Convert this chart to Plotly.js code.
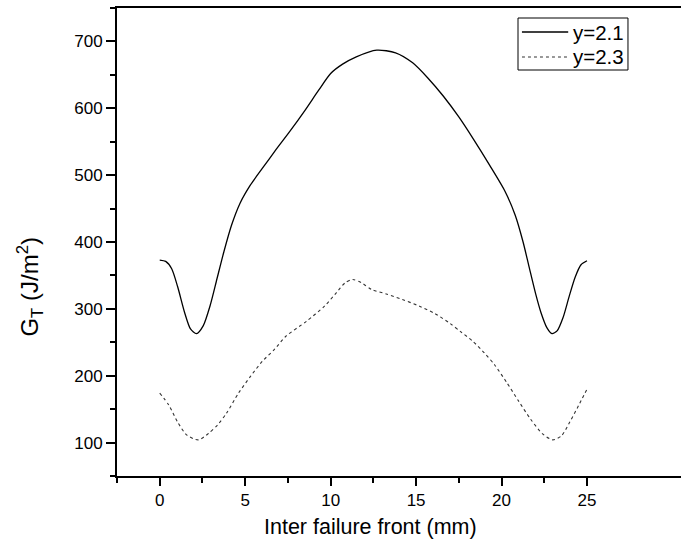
<!DOCTYPE html>
<html>
<head>
<meta charset="utf-8">
<script src="https://cdn.plot.ly/plotly-3.0.1.min.js"></script>
<style>
  html, body { margin: 0; padding: 0; background: #fff; overflow: hidden; }
  #chart { width: 681px; height: 552px; }
</style>
</head>
<body>
<div id="chart"></div>
<script>
// Series y = 2.1 (solid)
const xSolid = [0, 0.35, 0.7, 1.05, 1.45, 1.8, 2.15, 2.55, 2.95, 3.35, 3.75, 4.2, 4.7, 5.3, 6.0, 6.8, 7.6, 8.5, 9.3, 10.0, 10.7, 11.5, 12.7, 13.8, 14.8, 15.7, 16.6, 17.5, 18.4, 19.3, 20.2, 20.8, 21.26, 21.6, 22.0, 22.3, 22.65, 22.95, 23.25, 23.6, 23.95, 24.3, 24.65, 25];
const ySolid = [373, 371, 360, 333, 295, 270, 263, 275, 305, 345, 385, 425, 458, 485, 510, 538, 565, 597, 627, 652, 666, 677, 687, 683, 668, 645, 618, 587, 552, 515, 476, 440, 400, 364, 322, 295, 272, 263, 267, 287, 318, 347, 366, 372];

// Series y = 2.3 (dashed)
const xDash = [0, 0.52, 1.04, 1.57, 2.26, 2.87, 3.39, 3.91, 4.61, 5.31, 6.0, 6.7, 7.38, 8.59, 9.64, 10.33, 10.85, 11.3, 11.8, 12.4, 13.3, 14.2, 15.2, 16.1, 17.0, 17.6, 18.3, 19.0, 19.6, 20.3, 21.0, 21.7, 22.4, 23.0, 23.5, 24.0, 24.5, 25];
const yDash = [174, 156.5, 131, 111.5, 104, 114, 126.5, 144, 174, 199, 221.5, 239, 259, 281.5, 304, 324, 339, 344, 339, 329, 322, 314, 304, 293, 278, 266, 252, 234, 216, 190, 162, 135, 113, 104, 110, 131, 155, 180];

const seriesNames = ['y=2.1', 'y=2.3'];
const xTitle = 'Inter failure front (mm)';
const yTitle = 'G<sub>T</sub> (J/m<sup>2</sup>)';

const FONT = 'Liberation Sans, Arial, sans-serif';

const traces = [
  {
    x: xSolid, y: ySolid, name: seriesNames[0], type: 'scatter', mode: 'lines',
    line: { color: '#000', width: 1.3, shape: 'spline', smoothing: 0.7 }
  },
  {
    x: xDash, y: yDash, name: seriesNames[1], type: 'scatter', mode: 'lines',
    line: { color: '#333', width: 1.1, dash: '3px,3px', shape: 'spline', smoothing: 0.7 }
  }
];

// Legend box (drawn in paper coordinates)
const LG = { x0: 0.711, x1: 0.906, y0: 0.8675, y1: 0.9786, lx0: 0.718, lx1: 0.80, tx: 0.9025, rows: [0.9487, 0.8953] };
const shapes = [
  { type: 'rect', xref: 'paper', yref: 'paper', x0: LG.x0, x1: LG.x1, y0: LG.y0, y1: LG.y1,
    line: { color: '#000', width: 1 }, fillcolor: '#fff', layer: 'above' },
  { type: 'line', xref: 'paper', yref: 'paper', x0: LG.lx0, x1: LG.lx1, y0: LG.rows[0], y1: LG.rows[0],
    line: { color: traces[0].line.color, width: traces[0].line.width }, layer: 'above' },
  { type: 'line', xref: 'paper', yref: 'paper', x0: LG.lx0, x1: LG.lx1, y0: LG.rows[1], y1: LG.rows[1],
    line: { color: traces[1].line.color, width: traces[1].line.width, dash: traces[1].line.dash }, layer: 'above' }
];

const annotations = [
  { text: yTitle, xref: 'paper', yref: 'paper', x: -0.154, y: 0.405, xanchor: 'center', yanchor: 'middle',
    textangle: -90, showarrow: false, font: { family: FONT, size: 24, color: '#000' } },
  { text: xTitle, xref: 'paper', yref: 'paper', x: 0.45, y: -0.109, xanchor: 'center', yanchor: 'middle',
    showarrow: false, font: { family: FONT, size: 21.5, color: '#000' } },
  { text: seriesNames[0], xref: 'paper', yref: 'paper', x: LG.tx, y: LG.rows[0], xanchor: 'right', yanchor: 'middle',
    showarrow: false, font: { family: FONT, size: 20.5, color: '#000' } },
  { text: seriesNames[1], xref: 'paper', yref: 'paper', x: LG.tx, y: LG.rows[1], xanchor: 'right', yanchor: 'middle',
    showarrow: false, font: { family: FONT, size: 20.5, color: '#000' } }
];

const layout = {
  width: 681, height: 552,
  margin: { l: 117, r: 0, t: 8, b: 76 },
  paper_bgcolor: '#fff', plot_bgcolor: '#fff',
  font: { family: FONT, color: '#000', size: 17 },
  showlegend: false,
  xaxis: {
    range: [-2.5, 30.5], tickvals: [0, 5, 10, 15, 20, 25],
    showgrid: false, zeroline: false,
    showline: true, linecolor: '#000', linewidth: 2, mirror: true,
    ticks: 'outside', ticklen: 8, tickwidth: 2, tickcolor: '#000',
    minor: { tickvals: [-2.5, 2.5, 7.5, 12.5, 17.5, 22.5], ticks: 'outside', ticklen: 5, tickwidth: 2, tickcolor: '#000', showgrid: false },
    tickfont: { family: FONT, size: 17, color: '#000' }
  },
  yaxis: {
    range: [50, 750], tick0: 0, dtick: 100,
    showgrid: false, zeroline: false,
    showline: true, linecolor: '#000', linewidth: 2, mirror: false,
    ticks: 'outside', ticklen: 9, tickwidth: 2, tickcolor: '#000',
    minor: { dtick: 50, tick0: 0, ticks: 'outside', ticklen: 5, tickwidth: 2, tickcolor: '#000', showgrid: false },
    tickfont: { family: FONT, size: 17, color: '#000' }
  },
  shapes: shapes,
  annotations: annotations
};

Plotly.newPlot('chart', traces, layout, { displayModeBar: false, staticPlot: true });
</script>
</body>
</html>
